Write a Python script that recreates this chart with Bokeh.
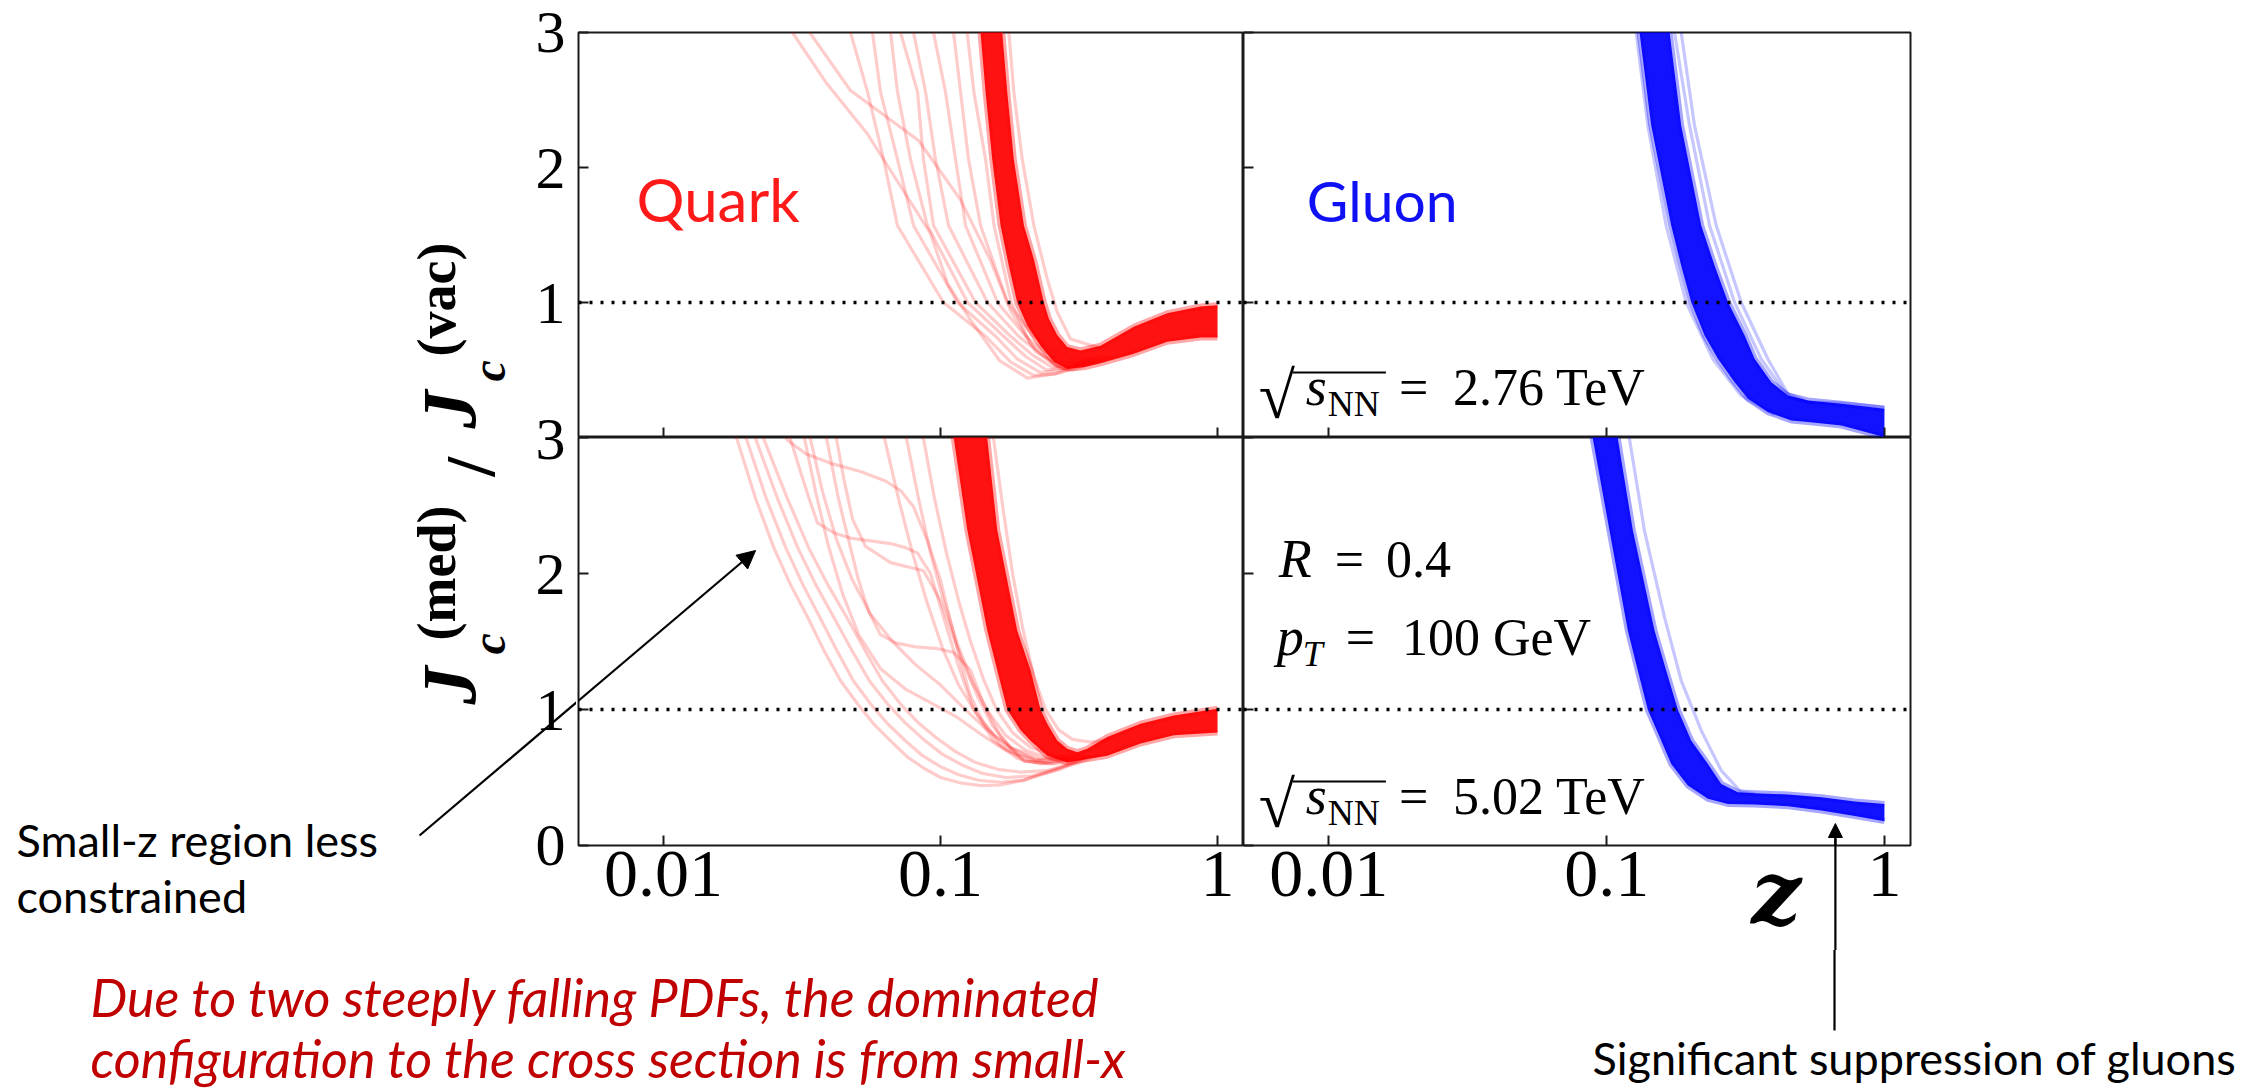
import math
from bokeh.plotting import figure
from bokeh.layouts import row, column
from bokeh.core.properties import value
from bokeh.models import (Range1d, LinearAxis, FixedTicker, CustomJSTickFormatter,
                          Label, Span, Arrow, NormalHead)
from bokeh.embed import file_html
from bokeh.resources import INLINE

# ---------------------------------------------------------------- axes / labels
Z_TICKS = [0.01, 0.1, 1.0]
J_TICKS = [0, 1, 2, 3]
Z_MIN, Z_MAX = 0.00493, 1.241
J_MIN, J_MAX = 0.0, 3.0
REF_LEVEL = 1.0
PARTON_NAMES = ["Quark", "Gluon"]
ENERGIES = ["2.76 TeV", "5.02 TeV"]
JET_R = "0.4"
JET_PT = "100 GeV"

# ---------------------------------------------------------------- quark, 2.76 TeV (top left)
Q276_BAND_LO_Z = [0.1356, 0.1394, 0.1454, 0.1537, 0.1647, 0.1765, 0.1891, 0.2056, 0.2296, 0.2566, 0.2866, 0.3292, 0.3781, 0.4988, 0.6580, 0.8685, 1.0]
Q276_BAND_LO_J = [3.15, 3.00, 2.56, 2.06, 1.57, 1.27, 1.00, 0.83, 0.68, 0.56, 0.51, 0.52, 0.55, 0.62, 0.71, 0.74, 0.74]
Q276_BAND_HI_Z = [0.1647, 0.1670, 0.1741, 0.1839, 0.2000, 0.2173, 0.2361, 0.2461, 0.2637, 0.2866, 0.3202, 0.3781, 0.4988, 0.6580, 0.8685, 1.0]
Q276_BAND_HI_J = [3.15, 3.00, 2.56, 2.06, 1.57, 1.32, 1.00, 0.88, 0.76, 0.67, 0.645, 0.68, 0.82, 0.92, 0.97, 0.98]

Q276_F1_Z = [0.0260, 0.0292, 0.0389, 0.0544, 0.0723, 0.0920, 0.1060, 0.1283, 0.1633, 0.2062, 0.2712, 0.3480]
Q276_F1_J = [3.15, 3.00, 2.62, 2.25, 1.85, 1.51, 1.14, 0.87, 0.57, 0.44, 0.48, 0.56]
Q276_F2_Z = [0.0312, 0.0337, 0.0473, 0.0833, 0.1181, 0.1516, 0.1790, 0.2203, 0.2712, 0.3782]
Q276_F2_J = [3.15, 3.00, 2.57, 2.20, 1.76, 1.31, 0.94, 0.64, 0.51, 0.56]
Q276_F3_Z = [0.0450, 0.0473, 0.0545, 0.0623, 0.0699, 0.1025, 0.1454, 0.1790, 0.2167, 0.2602, 0.3072, 0.4110]
Q276_F3_J = [3.15, 3.00, 2.56, 2.06, 1.57, 1.00, 0.75, 0.56, 0.46, 0.47, 0.53, 0.60]
Q276_F4_Z = [0.0541, 0.0568, 0.0607, 0.0699, 0.0799, 0.1152, 0.1580, 0.1896, 0.2296, 0.2757, 0.3203, 0.4110]
Q276_F4_J = [3.15, 3.00, 2.56, 2.06, 1.57, 1.00, 0.75, 0.58, 0.48, 0.50, 0.55, 0.60]
Q276_F5_Z = [0.0638, 0.0660, 0.0699, 0.0779, 0.0897, 0.1252, 0.1689, 0.2028, 0.2414, 0.2898, 0.3339]
Q276_F5_J = [3.15, 3.00, 2.56, 2.06, 1.57, 1.00, 0.75, 0.60, 0.50, 0.52, 0.56]
Q276_F6_Z = [0.0694, 0.0717, 0.0826, 0.0868, 0.0943, 0.1338, 0.1790, 0.2149, 0.2537, 0.2996, 0.3480]
Q276_F6_J = [3.15, 3.00, 2.56, 2.06, 1.57, 1.00, 0.75, 0.61, 0.52, 0.54, 0.57]
Q276_F7_Z = [0.0773, 0.0799, 0.0883, 0.0959, 0.1069, 0.1478, 0.1913, 0.2296, 0.2667, 0.3150, 0.3628]
Q276_F7_J = [3.15, 3.00, 2.56, 2.06, 1.57, 1.00, 0.75, 0.62, 0.54, 0.56, 0.58]
Q276_F8_Z = [0.0912, 0.0943, 0.1042, 0.1133, 0.1231, 0.1607, 0.2028, 0.2394, 0.2780, 0.3283, 0.3782]
Q276_F8_J = [3.15, 3.00, 2.56, 2.06, 1.57, 1.00, 0.75, 0.63, 0.56, 0.57, 0.59]
Q276_F9_Z = [0.1078, 0.1114, 0.1181, 0.1262, 0.1395, 0.1746, 0.2167, 0.2537, 0.2947, 0.3480, 0.3943]
Q276_F9_J = [3.15, 3.00, 2.56, 2.06, 1.57, 1.00, 0.75, 0.65, 0.59, 0.59, 0.60]
Q276_F10_Z = [0.1220, 0.1248, 0.1319, 0.1454, 0.1560, 0.1800, 0.2100, 0.2600, 0.3000, 0.3600]
Q276_F10_J = [3.15, 3.00, 2.56, 2.06, 1.57, 1.00, 0.70, 0.53, 0.50, 0.56]
Q276_F11_Z = [0.1741, 0.1765, 0.1839, 0.1972, 0.2173, 0.2427, 0.2637, 0.2946, 0.3781]
Q276_F11_J = [3.15, 3.00, 2.56, 2.06, 1.57, 1.175, 0.93, 0.73, 0.66]

# ---------------------------------------------------------------- quark, 5.02 TeV (bottom left)
Q502_BAND_LO_Z = [0.1087, 0.1117, 0.1249, 0.1475, 0.1602, 0.1741, 0.1944, 0.2113, 0.2427, 0.2867, 0.3478, 0.3998, 0.5273, 0.6953, 1.0]
Q502_BAND_LO_J = [3.125, 2.99, 2.32, 1.58, 1.29, 1.00, 0.85, 0.77, 0.66, 0.61, 0.64, 0.66, 0.75, 0.81, 0.83]
Q502_BAND_HI_Z = [0.1454, 0.1475, 0.1602, 0.1891, 0.2113, 0.2296, 0.2427, 0.2638, 0.2867, 0.3115, 0.3385, 0.3998, 0.5273, 0.6953, 1.0]
Q502_BAND_HI_J = [3.125, 2.99, 2.32, 1.58, 1.29, 1.00, 0.895, 0.772, 0.711, 0.686, 0.711, 0.797, 0.895, 0.956, 1.005]

Q502_F1_Z = [0.0176, 0.0184, 0.0215, 0.0250, 0.0287, 0.0331, 0.0378, 0.0436, 0.0502, 0.0573, 0.0660, 0.0760, 0.0868, 0.1000, 0.1181, 0.1395, 0.1647, 0.1994, 0.2645, 0.3339]
Q502_F1_J = [3.13, 2.99, 2.55, 2.19, 1.92, 1.68, 1.44, 1.21, 1.04, 0.895, 0.77, 0.65, 0.57, 0.50, 0.46, 0.44, 0.445, 0.48, 0.57, 0.65]
Q502_F2_Z = [0.0191, 0.0199, 0.0235, 0.0276, 0.0318, 0.0366, 0.0421, 0.0485, 0.0559, 0.0644, 0.0747, 0.0861, 0.1000, 0.1162, 0.1372, 0.1647, 0.1994, 0.2495, 0.3339]
Q502_F2_J = [3.13, 2.99, 2.55, 2.19, 1.92, 1.68, 1.44, 1.21, 1.04, 0.895, 0.77, 0.66, 0.58, 0.52, 0.48, 0.465, 0.48, 0.54, 0.65]
Q502_F3_Z = [0.0206, 0.0215, 0.0258, 0.0305, 0.0354, 0.0411, 0.0477, 0.0554, 0.0644, 0.0747, 0.0868, 0.1017, 0.1201, 0.1418, 0.1717, 0.2114, 0.2712, 0.3480]
Q502_F3_J = [3.13, 2.99, 2.55, 2.19, 1.92, 1.68, 1.44, 1.21, 1.04, 0.90, 0.78, 0.67, 0.59, 0.53, 0.50, 0.51, 0.56, 0.66]
Q502_F4_Z = [0.0220, 0.0230, 0.0280, 0.0334, 0.0391, 0.0458, 0.0532, 0.0617, 0.0717, 0.0833, 0.0967, 0.1133, 0.1338, 0.1607, 0.1945, 0.2394, 0.3072, 0.3782]
Q502_F4_J = [3.13, 2.99, 2.55, 2.19, 1.92, 1.68, 1.44, 1.21, 1.04, 0.90, 0.79, 0.69, 0.61, 0.56, 0.54, 0.55, 0.60, 0.67]
Q502_F5_Z = [0.0254, 0.0280, 0.0326, 0.0401, 0.0514, 0.0633, 0.0717, 0.0799, 0.0897, 0.1000, 0.1087, 0.1181, 0.1283, 0.1430, 0.1647, 0.2028, 0.2602, 0.3339]
Q502_F5_J = [3.13, 2.98, 2.88, 2.81, 2.75, 2.68, 2.61, 2.49, 2.24, 1.95, 1.65, 1.35, 1.10, 0.90, 0.74, 0.62, 0.60, 0.65]
Q502_F6_Z = [0.0278, 0.0287, 0.0312, 0.0334, 0.0360, 0.0411, 0.0473, 0.0559, 0.0660, 0.0747, 0.0826, 0.0920, 0.1025, 0.1152, 0.1316, 0.1554, 0.1896, 0.2296, 0.2947]
Q502_F6_J = [3.13, 2.99, 2.75, 2.56, 2.37, 2.30, 2.26, 2.24, 2.22, 2.19, 2.15, 2.00, 1.68, 1.34, 1.00, 0.77, 0.64, 0.60, 0.64]
Q502_F7_Z = [0.0375, 0.0388, 0.0428, 0.0465, 0.0506, 0.0550, 0.0607, 0.0688, 0.0812, 0.0959, 0.1114, 0.1283, 0.1430, 0.1647, 0.1994, 0.2495, 0.3203]
Q502_F7_J = [3.13, 2.99, 2.55, 2.25, 1.95, 1.72, 1.55, 1.49, 1.46, 1.45, 1.42, 1.29, 1.04, 0.80, 0.62, 0.60, 0.66]
Q502_F8_Z = [0.0407, 0.0421, 0.0447, 0.0481, 0.0536, 0.0660, 0.0868, 0.1000, 0.1105, 0.1231, 0.1372, 0.1541, 0.1790, 0.2203, 0.2827]
Q502_F8_J = [3.13, 2.99, 2.70, 2.40, 2.20, 2.08, 2.02, 1.80, 1.55, 1.30, 1.08, 0.88, 0.72, 0.63, 0.64]
Q502_F9_Z = [0.0312, 0.0323, 0.0354, 0.0394, 0.0443, 0.0506, 0.0607, 0.0747, 0.0920, 0.1133, 0.1395, 0.1717, 0.2203, 0.2827]
Q502_F9_J = [3.13, 2.99, 2.60, 2.20, 1.85, 1.55, 1.30, 1.15, 1.05, 0.95, 0.82, 0.70, 0.62, 0.64]
Q502_F10_Z = [0.0607, 0.0628, 0.0705, 0.0792, 0.0890, 0.1017, 0.1162, 0.1338, 0.1580, 0.1913, 0.2394, 0.3072]
Q502_F10_J = [3.13, 2.99, 2.55, 2.15, 1.80, 1.45, 1.18, 0.98, 0.80, 0.67, 0.61, 0.65]
Q502_F11_Z = [0.0735, 0.0754, 0.0833, 0.0920, 0.1025, 0.1152, 0.1305, 0.1491, 0.1717, 0.2028, 0.2495, 0.3203]
Q502_F11_J = [3.13, 2.99, 2.55, 2.15, 1.80, 1.48, 1.20, 0.98, 0.81, 0.70, 0.64, 0.66]
Q502_F12_Z = [0.0847, 0.0868, 0.0951, 0.1051, 0.1162, 0.1283, 0.1430, 0.1593, 0.1820, 0.2114, 0.2602, 0.3339]
Q502_F12_J = [3.13, 2.99, 2.55, 2.15, 1.80, 1.50, 1.22, 1.00, 0.83, 0.72, 0.66, 0.67]
Q502_F13_Z = [0.1516, 0.1554, 0.1675, 0.1820, 0.1978, 0.2167, 0.2394, 0.2667, 0.2996, 0.3480, 0.4110]
Q502_F13_J = [3.13, 2.99, 2.50, 2.00, 1.60, 1.25, 1.00, 0.85, 0.78, 0.76, 0.78]
Q502_F14_Z = [0.0326, 0.0339, 0.0375, 0.0421, 0.0481, 0.0559, 0.0671, 0.0812, 0.1000, 0.1201, 0.1454, 0.1790, 0.2296, 0.2947]
Q502_F14_J = [3.13, 2.99, 2.60, 2.25, 1.95, 1.70, 1.50, 1.33, 1.18, 1.02, 0.86, 0.72, 0.64, 0.65]

# ---------------------------------------------------------------- gluon, 2.76 TeV (top right)
G276_BAND_LO_Z = [0.1295, 0.1313, 0.1447, 0.1708, 0.1855, 0.2015, 0.2252, 0.2516, 0.2888, 0.3227, 0.3808, 0.4623, 0.5308, 0.6998, 1.0]
G276_BAND_LO_J = [3.126, 3.003, 2.311, 1.571, 1.274, 1.003, 0.756, 0.583, 0.410, 0.287, 0.188, 0.126, 0.114, 0.089, 0.003]
G276_BAND_HI_Z = [0.1661, 0.1684, 0.1855, 0.2190, 0.2446, 0.2733, 0.3139, 0.3410, 0.3915, 0.4496, 0.5308, 0.6998, 1.0]
G276_BAND_HI_J = [3.126, 3.003, 2.311, 1.571, 1.274, 1.003, 0.756, 0.583, 0.410, 0.311, 0.274, 0.250, 0.213]
G276_F1_Z = [0.1730, 0.1755, 0.1988, 0.2347, 0.2888, 0.3604, 0.4375, 0.5308, 0.6998, 1.0]
G276_F1_J = [3.13, 3.00, 2.31, 1.57, 1.00, 0.58, 0.336, 0.262, 0.255, 0.225]
G276_F2_Z = [0.1830, 0.1855, 0.2072, 0.2480, 0.3052, 0.3808, 0.4560, 0.5308]
G276_F2_J = [3.13, 3.00, 2.31, 1.57, 1.00, 0.58, 0.30, 0.26]
G276_F3_Z = [0.1260, 0.1277, 0.1407, 0.1638, 0.1934, 0.2413, 0.3052, 0.4025]
G276_F3_J = [3.13, 3.00, 2.31, 1.57, 1.00, 0.58, 0.31, 0.17]

# ---------------------------------------------------------------- gluon, 5.02 TeV (bottom right)
G502_BAND_LO_Z = [0.0879, 0.0892, 0.1024, 0.1192, 0.1295, 0.1407, 0.1572, 0.1708, 0.1961, 0.2315, 0.2733, 0.3410, 0.4496, 0.5929, 0.7818, 1.0]
G502_BAND_LO_J = [3.125, 2.99, 2.316, 1.581, 1.287, 0.998, 0.772, 0.600, 0.441, 0.343, 0.306, 0.302, 0.289, 0.257, 0.216, 0.179]
G502_BAND_HI_Z = [0.1082, 0.1097, 0.1243, 0.1487, 0.1638, 0.1805, 0.2015, 0.2315, 0.2586, 0.2970, 0.3410, 0.4496, 0.5929, 0.7818, 1.0]
G502_BAND_HI_J = [3.125, 2.99, 2.316, 1.581, 1.287, 0.998, 0.772, 0.600, 0.453, 0.392, 0.385, 0.375, 0.355, 0.324, 0.306]
G502_F1_Z = [0.1190, 0.1208, 0.1368, 0.1615, 0.1855, 0.2190, 0.2586, 0.3052, 0.3410]
G502_F1_J = [3.125, 2.99, 2.316, 1.679, 1.213, 0.846, 0.551, 0.392, 0.380]

Q276_FAINT = [(Q276_F1_Z, Q276_F1_J), (Q276_F2_Z, Q276_F2_J), (Q276_F3_Z, Q276_F3_J),
              (Q276_F4_Z, Q276_F4_J), (Q276_F5_Z, Q276_F5_J), (Q276_F6_Z, Q276_F6_J),
              (Q276_F7_Z, Q276_F7_J), (Q276_F8_Z, Q276_F8_J), (Q276_F9_Z, Q276_F9_J),
              (Q276_F10_Z, Q276_F10_J), (Q276_F11_Z, Q276_F11_J)]
Q502_FAINT = [(Q502_F1_Z, Q502_F1_J), (Q502_F2_Z, Q502_F2_J), (Q502_F3_Z, Q502_F3_J),
              (Q502_F4_Z, Q502_F4_J), (Q502_F5_Z, Q502_F5_J), (Q502_F6_Z, Q502_F6_J),
              (Q502_F7_Z, Q502_F7_J), (Q502_F8_Z, Q502_F8_J), (Q502_F9_Z, Q502_F9_J),
              (Q502_F10_Z, Q502_F10_J), (Q502_F11_Z, Q502_F11_J), (Q502_F12_Z, Q502_F12_J),
              (Q502_F13_Z, Q502_F13_J), (Q502_F14_Z, Q502_F14_J)]
G276_FAINT = [(G276_F1_Z, G276_F1_J), (G276_F2_Z, G276_F2_J), (G276_F3_Z, G276_F3_J)]
G502_FAINT = [(G502_F1_Z, G502_F1_J)]

QUARK_COLOR = "#ff0000"
GLUON_COLOR = "#0000ff"
INK = "#1a1a1a"
SERIF = "Liberation Serif"
SANS = "Lato"
UP = math.pi / 2
BASELINE_SHIFT = 0.40   # em: correction so that the given point is the text baseline

# page-pixel -> coordinates helpers (annotation placement only)
def zl(px): return 10 ** ((px - 1217) / 277.0)
def zr(px): return 10 ** ((px - 1883) / 277.5)
def jt(py): return (437 - py) / 135.0
def jb(py): return (845 - py) / 136.0
def ly(py): return 950.0 - py
def by(py): return 1090.0 - py
def ident(px): return float(px)


def lab(p, fx, fy, px, py, text, size, font=SERIF, style="normal", color="black", rot=False):
    k = BASELINE_SHIFT * size
    if rot:
        x, y, ang = fx(px - k), fy(py), UP
    else:
        x, y, ang = fx(px), fy(py - k), 0.0
    p.add_layout(Label(x=x, y=y, text=text, text_font=font, text_font_size=f"{size}px",
                       text_font_style=style, text_color=color, angle=ang,
                       text_align="left", text_baseline="alphabetic"))


def free_text(p, fx, fy, px, py, text, size, font, style):
    # text that sits outside the frame (drawn as an overlay-level text glyph)
    k = BASELINE_SHIFT * size
    p.text(x=[fx(px)], y=[fy(py - k)], text=[text], text_font=value(font),
           text_font_size=value(f"{size}px"), text_font_style=style, text_color="black",
           text_align="left", text_baseline="alphabetic", level="overlay")


def arrow(p, x0, y0, x1, y1, head=None, width=2.2):
    p.add_layout(Arrow(x_start=x0, y_start=y0, x_end=x1, y_end=y1, start=None, end=head,
                       line_color="black", line_width=width))


def free_line(p, xs, ys, width=2.2):
    # pointer line that may run outside the frame
    p.line(xs, ys, line_color="black", line_width=width, level="overlay")


def style_axis(ax, show_labels):
    ax.axis_line_color = None
    ax.major_tick_in = 10
    ax.major_tick_out = 0
    ax.minor_tick_in = 0
    ax.minor_tick_out = 0
    ax.minor_tick_line_color = None
    ax.major_tick_line_color = INK
    ax.major_tick_line_width = 2
    ax.major_label_standoff = 0
    if show_labels:
        ax.formatter = CustomJSTickFormatter(code="return String(tick)")
        ax.major_label_text_font = SERIF
        ax.major_label_text_font_size = "68px"
        ax.major_label_text_color = "black"
        ax.major_label_standoff = 6
    else:
        ax.formatter = CustomJSTickFormatter(code="return ''")
        ax.major_label_text_font_size = "1px"


def make_panel(width, height, mb_left, mb_right, mb_top, mb_bottom, xlabels):
    p = figure(width=width, height=height, x_axis_type="log",
               x_range=Range1d(Z_MIN, Z_MAX), y_range=Range1d(J_MIN, J_MAX),
               output_backend="svg", toolbar_location=None, tools="", title=None,
               min_border_left=mb_left, min_border_right=mb_right,
               min_border_top=mb_top, min_border_bottom=mb_bottom)
    p.xgrid.grid_line_color = None
    p.ygrid.grid_line_color = None
    p.outline_line_color = INK
    p.outline_line_width = 2
    p.background_fill_color = "white"
    p.border_fill_color = "white"
    p.xaxis[0].ticker = FixedTicker(ticks=Z_TICKS)
    p.yaxis[0].ticker = FixedTicker(ticks=J_TICKS)
    style_axis(p.xaxis[0], xlabels)
    style_axis(p.yaxis[0], False)
    return p


def draw_family(p, color, faint, lo_z, lo_j, hi_z, hi_j, faint_alpha):
    for zs, js in faint:
        p.line(zs, js, line_color=color, line_alpha=faint_alpha, line_width=3.2,
               line_join="round")
    p.line(lo_z, lo_j, line_color=color, line_alpha=0.35, line_width=6, line_join="round")
    p.line(hi_z, hi_j, line_color=color, line_alpha=0.35, line_width=6, line_join="round")
    p.patch(list(lo_z) + list(hi_z)[::-1], list(lo_j) + list(hi_j)[::-1],
            fill_color=color, fill_alpha=0.93, line_color=None)
    p.add_layout(Span(location=REF_LEVEL, dimension="width", line_color="black",
                      line_width=3.4, line_dash="3 8"))


def sqrt_s(p, fy, base_py, energy):
    lab(p, zr, fy, 1258, base_py + 13, "\u221a", 66)
    lab(p, zr, fy, 1305, base_py, "s", 54, style="italic")
    lab(p, zr, fy, 1327, base_py + 10, "NN", 36)
    arrow(p, zr(1292), fy(base_py - 36), zr(1385), fy(base_py - 36), width=2)
    lab(p, zr, fy, 1398, base_py, "=", 52)
    lab(p, zr, fy, 1452, base_py, energy, 52)


# ---------------------------------------------------------------- panels
tl = make_panel(667, 437, 2, 0, 32, 0, False)
tr = make_panel(1017, 437, 0, 350, 32, 0, False)
bl = make_panel(667, 513, 2, 0, 0, 105, True)
br = make_panel(1017, 513, 0, 350, 0, 105, True)

draw_family(tl, QUARK_COLOR, Q276_FAINT, Q276_BAND_LO_Z, Q276_BAND_LO_J, Q276_BAND_HI_Z, Q276_BAND_HI_J, 0.2)
draw_family(bl, QUARK_COLOR, Q502_FAINT, Q502_BAND_LO_Z, Q502_BAND_LO_J, Q502_BAND_HI_Z, Q502_BAND_HI_J, 0.2)
draw_family(tr, GLUON_COLOR, G276_FAINT, G276_BAND_LO_Z, G276_BAND_LO_J, G276_BAND_HI_Z, G276_BAND_HI_J, 0.22)
draw_family(br, GLUON_COLOR, G502_FAINT, G502_BAND_LO_Z, G502_BAND_LO_J, G502_BAND_HI_Z, G502_BAND_HI_J, 0.22)

lab(tl, zl, jt, 636, 222, PARTON_NAMES[0], 60, font=SANS, color="#ff1a1a")
lab(tr, zr, jt, 1306, 222, PARTON_NAMES[1], 57, font=SANS, color="#1010f5")

sqrt_s(tr, jt, 408, ENERGIES[0])
sqrt_s(br, jb, 817, ENERGIES[1])

lab(br, zr, jb, 1278, 580, "R", 54, style="italic")
lab(br, zr, jb, 1334, 580, "=", 52)
lab(br, zr, jb, 1385, 580, JET_R, 52)
lab(br, zr, jb, 1276, 658, "p", 54, style="italic")
lab(br, zr, jb, 1302, 668, "T", 36, style="italic")
lab(br, zr, jb, 1345, 658, "=", 52)
lab(br, zr, jb, 1401, 658, JET_PT, 52)

free_text(br, zr, jb, 1750, 928, "z", 88, "DejaVu Serif", "bold italic")
free_line(br, [zr(1834), zr(1834)], [jb(956), jb(838)])
arrow(br, zr(1834), jb(846), zr(1834), jb(823),
      head=NormalHead(size=14, fill_color="black", line_color="black", line_width=1))

# small-z pointer, head part inside the bottom-left panel
arrow(bl, zl(572), jb(705.2), zl(755), jb(550),
      head=NormalHead(size=18, fill_color="black", line_color="black", line_width=1))

# ---------------------------------------------------------------- left strip (y ticks, y title, note)
lf = figure(width=576, height=950, x_range=Range1d(0, 530), y_range=Range1d(0, 950),
            x_axis_location=None, y_axis_location=None, output_backend="svg",
            toolbar_location=None, tools="", title=None,
            min_border_left=0, min_border_right=46, min_border_top=0, min_border_bottom=0)
lf.xgrid.grid_line_color = None
lf.ygrid.grid_line_color = None
lf.outline_line_color = None
lf.background_fill_color = "white"
lf.border_fill_color = "white"
lf.extra_y_ranges = {"tk": Range1d(-0.7749, 6.2362)}
yax = LinearAxis(y_range_name="tk", ticker=FixedTicker(ticks=[0, 1, 2, 3, 4, 5, 6]),
                 formatter=CustomJSTickFormatter(code="return String(tick > 3 ? tick - 3 : tick)"))
yax.axis_line_color = None
yax.major_tick_in = 0
yax.major_tick_out = 0
yax.minor_tick_in = 0
yax.minor_tick_out = 0
yax.major_tick_line_color = None
yax.minor_tick_line_color = None
yax.major_label_standoff = 5
yax.major_label_text_font = SERIF
yax.major_label_text_font_size = "60px"
yax.major_label_text_color = "black"
lf.add_layout(yax, "right")

lab(lf, ident, ly, 479, 704, "J", 76, style="bold italic", rot=True)
lab(lf, ident, ly, 507, 654, "c", 48, style="bold italic", rot=True)
lab(lf, ident, ly, 458, 640, "(med)", 54, style="bold", rot=True)
lab(lf, ident, ly, 498, 476, "/", 70, style="bold", rot=True)
lab(lf, ident, ly, 479, 428, "J", 76, style="bold italic", rot=True)
lab(lf, ident, ly, 507, 381, "c", 48, style="bold italic", rot=True)
lab(lf, ident, ly, 458, 356, "(vac)", 54, style="bold", rot=True)

lab(lf, ident, ly, 16, 857, "Small-z region less", 45, font=SANS)
lab(lf, ident, ly, 16, 913, "constrained", 45, font=SANS)
free_line(lf, [419, 582], [ly(835), ly(835 - 0.8482 * 163)])

# ---------------------------------------------------------------- bottom strip
bf = figure(width=2260, height=140, x_range=Range1d(0, 2260), y_range=Range1d(0, 140),
            x_axis_location=None, y_axis_location=None, output_backend="svg",
            toolbar_location=None, tools="", title=None,
            min_border_left=0, min_border_right=0, min_border_top=0, min_border_bottom=0)
bf.xgrid.grid_line_color = None
bf.ygrid.grid_line_color = None
bf.outline_line_color = None
bf.background_fill_color = "white"
bf.border_fill_color = "white"
lab(bf, ident, by, 90, 1017, "Due to two steeply falling PDFs, the dominated", 52, font=SANS,
    style="italic", color="#c00000")
lab(bf, ident, by, 90, 1078, "configuration to the cross section is from small-x", 52, font=SANS,
    style="italic", color="#c00000")
lab(bf, ident, by, 1592, 1075, "Significant suppression of gluons", 45, font=SANS)
free_line(bf, [1834, 1834], [by(940), by(1030)])

layout = column(row(lf, column(row(tl, tr), row(bl, br))), bf)

open("out.html", "w").write(file_html(layout, INLINE, "jet function ratio"))
